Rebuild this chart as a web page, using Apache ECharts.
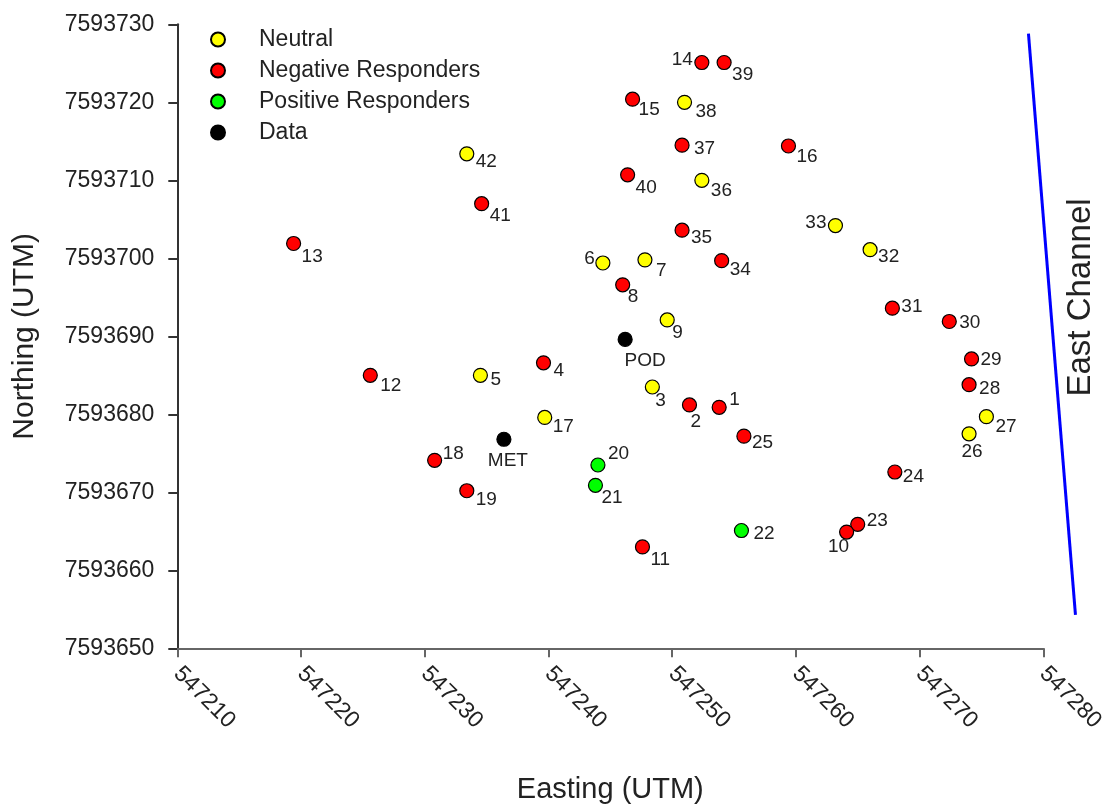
<!DOCTYPE html>
<html><head><meta charset="utf-8">
<script src="https://cdn.jsdelivr.net/npm/echarts@6/dist/echarts.min.js"></script>
<style>html,body{margin:0;padding:0;background:#fff}#c{width:1102px;height:809px}</style>
</head><body><div id="c"></div>
<script>
// ---- tick values ----
const xTicks = [547210, 547220, 547230, 547240, 547250, 547260, 547270, 547280];
const yTicks = [7593650, 7593660, 7593670, 7593680, 7593690, 7593700, 7593710, 7593720, 7593730];

// ---- Neutral ----
const neutralIds      = ['42', '5', '38', '36', '6', '7', '9', '3', '17', '33', '32', '27', '26'];
const neutralEasting  = [547233.4, 547234.5, 547251.0, 547252.4, 547244.4, 547247.8, 547249.6, 547248.4, 547239.7, 547263.2, 547266.0, 547275.4, 547274.0];
const neutralNorthing = [7593713.4, 7593685.0, 7593720.0, 7593710.0, 7593699.4, 7593699.8, 7593692.1, 7593683.5, 7593679.6, 7593704.2, 7593701.1, 7593679.7, 7593677.5];

// ---- Negative Responders ----
const negativeIds      = ['14', '39', '15', '37', '16', '40', '41', '13', '35', '34', '8', '31', '30', '4', '12', '29', '28', '2', '1', '25', '18', '24', '19', '23', '10', '11'];
const negativeEasting  = [547252.4, 547254.2, 547246.8, 547250.8, 547259.4, 547246.4, 547234.6, 547219.4, 547250.8, 547254.0, 547246.0, 547267.8, 547272.4, 547239.6, 547225.6, 547274.2, 547274.0, 547251.4, 547253.8, 547255.8, 547230.8, 547268.0, 547233.4, 547265.0, 547264.1, 547247.6];
const negativeNorthing = [7593725.1, 7593725.1, 7593720.4, 7593714.5, 7593714.4, 7593710.7, 7593707.0, 7593701.9, 7593703.6, 7593699.7, 7593696.6, 7593693.6, 7593691.9, 7593686.6, 7593685.0, 7593687.1, 7593683.8, 7593681.2, 7593680.9, 7593677.2, 7593674.1, 7593672.6, 7593670.2, 7593665.9, 7593664.9, 7593663.0];

// ---- Positive Responders ----
const positiveIds      = ['20', '21', '22'];
const positiveEasting  = [547244.0, 547243.8, 547255.6];
const positiveNorthing = [7593673.5, 7593670.9, 7593665.1];

// ---- Data (instruments) ----
const dataIds      = ['POD', 'MET'];
const dataEasting  = [547246.2, 547236.4];
const dataNorthing = [7593689.6, 7593676.8];

// ---- East Channel line ----
const channelEasting  = [547278.8, 547282.6];
const channelNorthing = [7593728.8, 7593654.3];

// ---- label placement (style only): [dx, dy, align] from point centre ----
const labelPlace = {
  '42':[9,8,'left'], '41':[8,12,'left'], '13':[8,13,'left'], '12':[10,10,'left'], '5':[10,4,'left'],
  '18':[8,-7,'left'], '19':[9,9,'left'], '8':[5,12,'left'], '9':[5,13,'left'], '3':[3,14,'left'],
  '2':[1,17,'left'], '1':[10,-8,'left'], '20':[10,-11,'left'], '22':[12,3,'left'], '4':[10,8,'left'],
  '17':[8,9,'left'], '25':[8,7,'left'], '21':[6,12,'left'], '11':[8,13,'left'], '14':[-9,-3,'right'],
  '39':[8,12,'left'], '15':[6,11,'left'], '38':[11,9,'left'], '37':[12,4,'left'], '40':[8,13,'left'],
  '36':[9,10,'left'], '35':[9,8,'left'], '6':[-8,-4,'right'], '7':[11,11,'left'], '34':[8,9,'left'],
  '16':[8,11,'left'], '33':[-9,-3,'right'], '32':[8,7,'left'], '31':[9,-1,'left'], '30':[10,1,'left'],
  '29':[9,1,'left'], '28':[10,4,'left'], '27':[9,10,'left'], '26':[3,18,'center'], '24':[8,5,'left'],
  '23':[9,-4,'left'], '10':[-8,15,'center'], 'POD':[20,21,'center'], 'MET':[4,22,'center']
};

const FONT = '"Liberation Sans", Arial, sans-serif';
const TXT = '#222';

function makeItems(ids, xs, ys) {
  return ids.map((id, i) => {
    const p = labelPlace[id] || [8, 10, 'left'];
    return {
      name: id,
      value: [xs[i], ys[i]],
      label: {
        show: true, formatter: id, position: 'inside',
        align: p[2], verticalAlign: 'middle', offset: [p[0], p[1]],
        fontSize: 19, fontFamily: FONT, color: TXT
      }
    };
  });
}

function scatter(name, color, ids, xs, ys) {
  return {
    name, type: 'scatter', symbol: 'circle', symbolSize: 14,
    itemStyle: { color, borderColor: '#000', borderWidth: 1.2, opacity: 1 },
    emphasis: { disabled: true },
    data: makeItems(ids, xs, ys)
  };
}

const eastChannelText = {
  id: 'ecText', type: 'text', x: 1081, y: 297.5, rotation: Math.PI / 2,
  style: { text: 'East Channel', fontSize: 33, fontFamily: FONT, fill: TXT,
    align: 'center', verticalAlign: 'middle', textAlign: 'center', textVerticalAlign: 'middle' }
};

const chart = echarts.init(document.getElementById('c'), null, { renderer: 'canvas' });
chart.setOption({
  animation: false,
  backgroundColor: '#fff',
  grid: { left: 177.3, right: 58.7, top: 24.3, bottom: 160.7, containLabel: false, outerBoundsMode: 'none' },
  legend: {
    orient: 'vertical', left: 210, top: 28, padding: 0, itemGap: 8,
    itemWidth: 14, itemHeight: 14, icon: 'circle',
    data: ['Neutral', 'Negative Responders', 'Positive Responders', 'Data'],
    textStyle: { fontSize: 23, fontFamily: FONT, color: TXT, padding: [0, 0, 0, 29] }
  },
  xAxis: {
    type: 'value', min: xTicks[0], max: xTicks[xTicks.length - 1], interval: xTicks[1] - xTicks[0],
    name: 'Easting (UTM)', nameLocation: 'middle', nameGap: 127,
    nameTextStyle: { fontSize: 29, fontFamily: FONT, color: TXT },
    axisLine: { show: true, onZero: false, lineStyle: { color: '#666', width: 2 } },
    axisTick: { show: true, length: 9, lineStyle: { color: '#666', width: 2 } },
    axisLabel: { rotate: -45, margin: 22, fontSize: 23, fontFamily: FONT, color: TXT, interval: 0,
      showMinLabel: true, showMaxLabel: true, hideOverlap: false,
      formatter: v => xTicks.includes(v) ? String(v) : '' },
    splitLine: { show: false }
  },
  yAxis: {
    type: 'value', min: yTicks[0], max: yTicks[yTicks.length - 1], interval: yTicks[1] - yTicks[0],
    name: 'Northing (UTM)', nameLocation: 'middle', nameGap: 138,
    nameTextStyle: { fontSize: 30, fontFamily: FONT, color: TXT },
    axisLine: { show: true, onZero: false, lineStyle: { color: '#333', width: 2 } },
    axisTick: { show: true, length: 9, lineStyle: { color: '#333', width: 2 } },
    axisLabel: { margin: 23, fontSize: 23, fontFamily: FONT, color: TXT,
      showMinLabel: true, showMaxLabel: true, hideOverlap: false,
      formatter: v => yTicks.includes(v) ? String(v) : '' },
    splitLine: { show: false }
  },
  graphic: [eastChannelText],
  series: [
    scatter('Neutral', '#FFFF00', neutralIds, neutralEasting, neutralNorthing),
    scatter('Negative Responders', '#FF0000', negativeIds, negativeEasting, negativeNorthing),
    scatter('Positive Responders', '#00FF00', positiveIds, positiveEasting, positiveNorthing),
    scatter('Data', '#000000', dataIds, dataEasting, dataNorthing)
  ]
});

// East Channel line: endpoints lie beyond the axis max, so place them through the grid's own scales
const c0 = chart.convertToPixel({ gridIndex: 0 }, [channelEasting[0], channelNorthing[0]]);
const c1 = chart.convertToPixel({ gridIndex: 0 }, [channelEasting[1], channelNorthing[1]]);
chart.setOption({
  graphic: [eastChannelText, {
    id: 'ecLine', type: 'line', z: 5,
    shape: { x1: c0[0], y1: c0[1], x2: c1[0], y2: c1[1] },
    style: { stroke: '#0000FF', lineWidth: 3 }
  }]
});
</script></body></html>
